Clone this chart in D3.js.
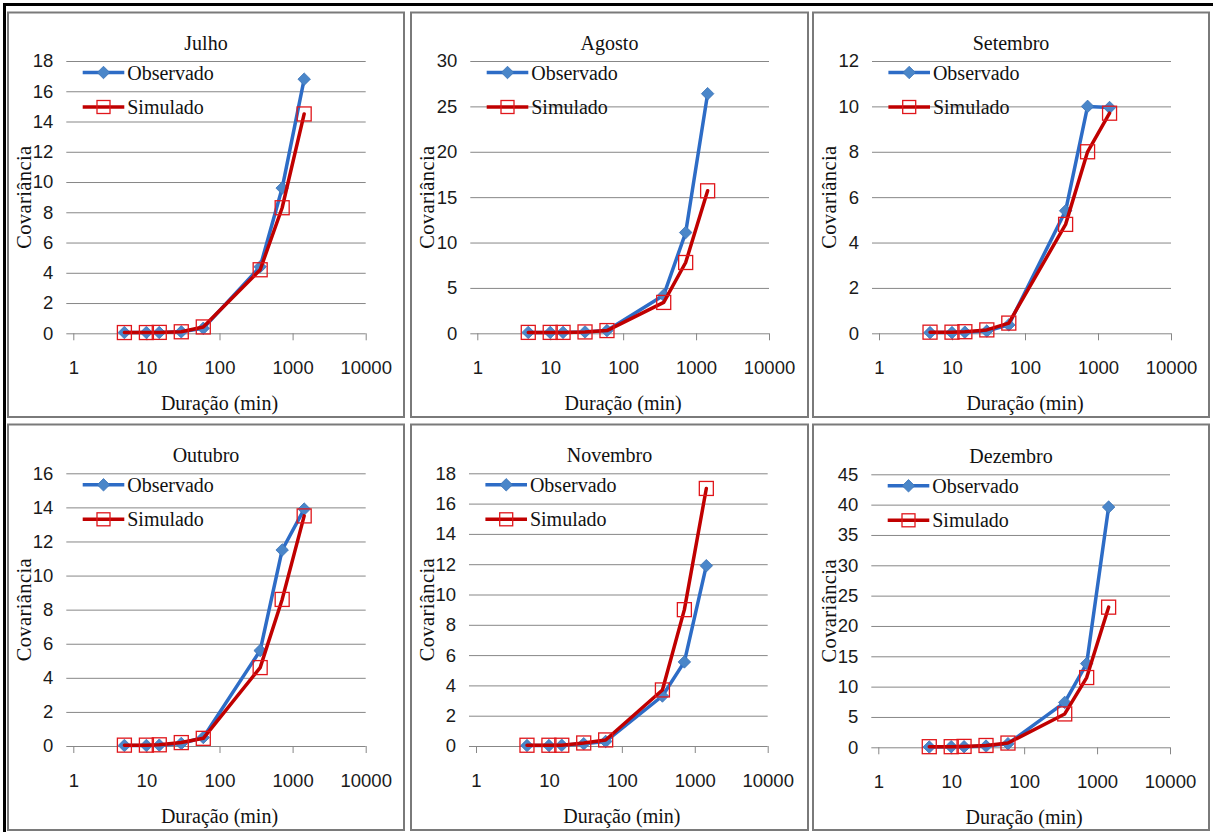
<!DOCTYPE html>
<html lang="pt">
<head>
<meta charset="utf-8">
<title>Covariância x Duração</title>
<script src="https://cdn.jsdelivr.net/npm/d3@7/dist/d3.min.js"></script>
<style>
  html, body { margin: 0; padding: 0; background: #ffffff; }
  svg { display: block; }
  .tick text { font-family: "Liberation Sans", Arial, sans-serif; font-size: 18.5px; fill: #1a1a1a; }
  .serif { font-family: "Liberation Serif", "Times New Roman", serif; fill: #111; }
</style>
</head>
<body>
<svg id="chart" width="1213" height="832"></svg>
<script>
// Durações (min) e séries de covariância por mês
const durations = [5, 10, 15, 30, 60, 360, 720, 1440];
const xTickValues = [1, 10, 100, 1000, 10000];
const months = ["Julho", "Agosto", "Setembro", "Outubro", "Novembro", "Dezembro"];
const seriesNames = ["Observado", "Simulado"];

const julhoObs    = [0.05, 0.05, 0.05, 0.1, 0.33, 4.4, 9.6, 16.8];
const julhoSim    = [0.05, 0.05, 0.06, 0.1, 0.42, 4.2, 8.3, 14.5];
const agostoObs   = [0.1, 0.1, 0.1, 0.15, 0.3, 4.2, 11.1, 26.4];
const agostoSim   = [0.1, 0.1, 0.1, 0.15, 0.3, 3.4, 7.8, 15.7];
const setembroObs = [0.03, 0.03, 0.05, 0.1, 0.37, 5.4, 10.0, 9.95];
const setembroSim = [0.05, 0.05, 0.07, 0.15, 0.45, 4.8, 8.0, 9.7];
const outubroObs  = [0.03, 0.03, 0.05, 0.15, 0.5, 5.6, 11.5, 13.9];
const outubroSim  = [0.05, 0.05, 0.07, 0.2, 0.45, 4.6, 8.6, 13.5];
const novembroObs = [0.03, 0.03, 0.05, 0.15, 0.3, 3.3, 5.55, 11.9];
const novembroSim = [0.05, 0.05, 0.05, 0.2, 0.4, 3.7, 9.0, 17.0];
const dezembroObs = [0.05, 0.1, 0.1, 0.2, 0.6, 7.4, 13.8, 39.6];
const dezembroSim = [0.1, 0.1, 0.15, 0.3, 0.7, 5.5, 11.5, 23.1];

const observedSeries = [julhoObs, agostoObs, setembroObs, outubroObs, novembroObs, dezembroObs];
const simulatedSeries = [julhoSim, agostoSim, setembroSim, outubroSim, novembroSim, dezembroSim];
const yMaxima = [18, 30, 12, 16, 18, 45];
const ySteps  = [2, 5, 2, 2, 2, 5];

// Panel frames and plot areas (pixels)
const frames = [
  { x0: 8,   y0: 12.5,  x1: 404,  y1: 417,  left: 73.3,  right: 365.7, top: 61,    bottom: 333.3 },
  { x0: 411, y0: 12.5,  x1: 808,  y1: 417,  left: 477.3, right: 769,   top: 61,    bottom: 333.3 },
  { x0: 813, y0: 12.5,  x1: 1209, y1: 417,  left: 879,   right: 1171,  top: 61,    bottom: 333.3 },
  { x0: 8,   y0: 424.5, x1: 404,  y1: 830,  left: 73.3,  right: 365.7, top: 473.3, bottom: 746 },
  { x0: 411, y0: 424.5, x1: 808,  y1: 830,  left: 476,   right: 767.7, top: 473.3, bottom: 746 },
  { x0: 813, y0: 424.5, x1: 1209, y1: 830,  left: 878.3, right: 1170,  top: 474.3, bottom: 747.3 }
];

const OBS_LINE = "#2d6cc6", OBS_FILL = "#4a86c9", OBS_EDGE = "#3a72b8";
const SIM_LINE = "#c00000", SIM_EDGE = "#e0161b";
const GRID = "#878787";

const svg = d3.select("#chart");
svg.append("rect").attr("width", 1213).attr("height", 832).attr("fill", "#fff");

// outer black frame (left and top edges visible)
svg.append("path")
  .attr("d", "M4.5,832 L4.5,4.5 L1213,4.5")
  .attr("fill", "none").attr("stroke", "#000").attr("stroke-width", 3);

const diamond = d3.symbol().type(d3.symbolDiamond2).size(100);

months.forEach((month, i) => {
  const f = frames[i];
  const g = svg.append("g");

  g.append("rect")
    .attr("x", f.x0).attr("y", f.y0)
    .attr("width", f.x1 - f.x0).attr("height", f.y1 - f.y0)
    .attr("fill", "#fff").attr("stroke", "#7a7a7a").attr("stroke-width", 2);

  const x = d3.scaleLog().domain([1, 10000]).range([f.left, f.right]);
  const y = d3.scaleLinear().domain([0, yMaxima[i]]).range([f.bottom, f.top]);
  const yTicks = d3.range(0, yMaxima[i] + ySteps[i] / 2, ySteps[i]);

  // horizontal gridlines with outside tick stubs
  const yAxis = g.append("g")
    .attr("transform", `translate(${f.left - 7},0)`)
    .call(d3.axisLeft(y).tickValues(yTicks).tickFormat(d3.format("d"))
      .tickSize(-(f.right - f.left + 7)).tickPadding(13));
  yAxis.select(".domain").remove();
  yAxis.selectAll(".tick line").attr("stroke", GRID).attr("stroke-width", 1);

  // logarithmic duration axis
  const xAxis = g.append("g")
    .attr("transform", `translate(0,${f.bottom})`)
    .call(d3.axisBottom(x).tickValues(xTickValues).tickFormat(d3.format("d"))
      .tickSize(7).tickPadding(21));
  xAxis.select(".domain").remove();
  xAxis.selectAll(".tick line").attr("stroke", GRID).attr("stroke-width", 1);

  // titles
  g.append("text").attr("class", "serif")
    .attr("x", (f.x0 + f.x1) / 2).attr("y", f.top - 18.3)
    .attr("text-anchor", "middle").attr("dy", "0.35em")
    .attr("font-size", 20).text(month);

  g.append("text").attr("class", "serif")
    .attr("x", (f.left + f.right) / 2).attr("y", f.bottom + 70)
    .attr("text-anchor", "middle").attr("dy", "0.35em")
    .attr("font-size", 20).text("Duração (min)");

  g.append("text").attr("class", "serif")
    .attr("transform", `translate(${f.x0 + 15.5},${(f.top + f.bottom) / 2}) rotate(-90)`)
    .attr("text-anchor", "middle").attr("dy", "0.35em")
    .attr("font-size", 20.5).attr("letter-spacing", "0.4px").text("Covariância");

  const line = d3.line().x(d => x(d[0])).y(d => y(d[1]));
  const obs = durations.map((d, k) => [d, observedSeries[i][k]]);
  const sim = durations.map((d, k) => [d, simulatedSeries[i][k]]);

  // Observado
  g.append("path").datum(obs).attr("d", line)
    .attr("fill", "none").attr("stroke", OBS_LINE).attr("stroke-width", 3.5)
    .attr("stroke-linejoin", "round").attr("stroke-linecap", "round");
  g.selectAll(".obs").data(obs).join("path").attr("class", "obs")
    .attr("transform", d => `translate(${x(d[0])},${y(d[1])})`)
    .attr("d", diamond).attr("fill", OBS_FILL).attr("stroke", OBS_EDGE).attr("stroke-width", 0.8);

  // Simulado
  g.append("path").datum(sim).attr("d", line)
    .attr("fill", "none").attr("stroke", SIM_LINE).attr("stroke-width", 3.5)
    .attr("stroke-linejoin", "round").attr("stroke-linecap", "round");
  g.selectAll(".sim").data(sim).join("rect").attr("class", "sim")
    .attr("x", d => x(d[0]) - 7).attr("y", d => y(d[1]) - 7)
    .attr("width", 14).attr("height", 14)
    .attr("fill", "none").attr("stroke", SIM_EDGE).attr("stroke-width", 1.3);

  // legend
  const lg = g.append("g").attr("transform", `translate(${f.left + 9.4},${f.top + 11.5})`);
  seriesNames.forEach((name, k) => {
    const row = lg.append("g").attr("transform", `translate(0,${k * 34.5})`);
    row.append("line").attr("x1", 0).attr("x2", 41.6).attr("y1", 0).attr("y2", 0)
      .attr("stroke", k === 0 ? OBS_LINE : SIM_LINE).attr("stroke-width", 3.5);
    if (k === 0) {
      row.append("path").attr("transform", "translate(20.8,0)").attr("d", diamond)
        .attr("fill", OBS_FILL).attr("stroke", OBS_EDGE).attr("stroke-width", 0.8);
    } else {
      row.append("rect").attr("x", 20.8 - 6.5).attr("y", -6.5).attr("width", 13).attr("height", 13)
        .attr("fill", "none").attr("stroke", SIM_EDGE).attr("stroke-width", 1.3);
    }
    row.append("text").attr("class", "serif")
      .attr("x", 44.5).attr("y", 0).attr("dy", "0.35em")
      .attr("font-size", 20).text(name);
  });
});
</script>
</body>
</html>
